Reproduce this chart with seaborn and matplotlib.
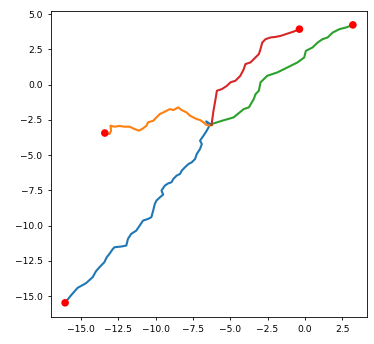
import pandas as pd
import seaborn as sns
import matplotlib
matplotlib.use("Agg")
import matplotlib.pyplot as plt

# four random walks, all starting near (-6.25, -2.85)
blue_x = [-6.25, -6.61, -6.39, -6.57, -6.79, -7.02, -6.90, -7.02, -7.24, -7.35, -7.58,
          -7.80, -8.03, -8.25, -8.36, -8.59, -8.81, -8.93, -9.15, -9.38, -9.60, -9.49,
          -9.71, -9.94, -10.05, -10.16, -10.28, -10.50, -10.84, -11.06, -11.29, -11.63,
          -11.85, -11.96, -12.30, -12.75, -12.86, -13.09, -13.27, -13.43, -13.76, -13.99,
          -14.21, -14.66, -15.22, -15.67, -16.06]
blue_y = [-2.85, -2.60, -2.91, -3.26, -3.62, -3.97, -4.21, -4.56, -4.92, -5.27, -5.51,
          -5.63, -5.86, -6.10, -6.33, -6.45, -6.69, -6.92, -7.00, -7.16, -7.51, -7.80,
          -7.99, -8.22, -8.46, -8.93, -9.40, -9.52, -9.64, -9.99, -10.35, -10.58,
          -10.94, -11.41, -11.48, -11.53, -11.65, -12.00, -12.24, -12.59, -12.95, -13.23,
          -13.65, -14.08, -14.41, -14.95, -15.47]

orange_x = [-6.25, -6.34, -6.61, -6.79, -7.02, -7.24, -7.47, -7.69, -7.92, -8.25, -8.48,
            -8.81, -9.04, -9.26, -9.49, -9.71, -9.94, -10.16, -10.50, -10.61, -10.84,
            -11.11, -11.40, -11.74, -12.08, -12.41, -12.75, -13.02, -12.98, -13.09, -13.40]
orange_y = [-2.85, -2.91, -2.84, -2.67, -2.51, -2.44, -2.32, -2.20, -1.97, -1.80, -1.61,
            -1.80, -1.73, -1.85, -1.97, -2.08, -2.32, -2.56, -2.67, -2.91, -3.10,
            -3.26, -3.15, -2.98, -2.98, -2.93, -2.98, -2.91, -3.26, -3.50, -3.43]

green_x = [-6.25, -6.23, -5.55, -4.77, -4.09, -3.75, -3.42, -3.30, -3.08, -2.97, -2.52,
           -1.84, -1.17, -0.49, -0.04, 0.07, 0.52, 0.86, 1.19, 1.53, 1.87, 2.32, 2.77, 3.22]
green_y = [-2.85, -2.79, -2.56, -2.32, -1.73, -1.61, -1.02, -0.67, -0.43, 0.16, 0.63,
           0.87, 1.22, 1.58, 1.93, 2.40, 2.64, 2.99, 3.23, 3.35, 3.70, 3.94, 4.06, 4.24]

red_x = [-6.25, -6.12, -6.00, -5.89, -5.55, -5.22, -4.99, -4.65, -4.32, -4.09, -3.98,
         -3.64, -3.42, -3.08, -2.97, -2.85, -2.63, -2.29, -1.95, -1.62, -1.28, -0.94,
         -0.61, -0.36]
red_y = [-2.85, -1.85, -1.14, -0.43, -0.31, -0.08, 0.16, 0.28, 0.63, 1.10, 1.46,
         1.58, 1.81, 2.17, 2.52, 2.99, 3.23, 3.35, 3.39, 3.46, 3.58, 3.70,
         3.82, 3.94]

walks = [(blue_x, blue_y), (orange_x, orange_y), (green_x, green_y), (red_x, red_y)]

frames = []
for i, (xs, ys) in enumerate(walks):
    frames.append(pd.DataFrame({"x": xs, "y": ys, "walk": i, "step": range(len(xs))}))
df = pd.concat(frames, ignore_index=True)

# end points of every walk
ends = pd.DataFrame({"x": [w[0][-1] for w in walks], "y": [w[1][-1] for w in walks]})

plt.rcParams["font.size"] = 6.6
plt.rcParams["xtick.major.size"] = 2.4
plt.rcParams["ytick.major.size"] = 2.4
plt.rcParams["xtick.major.width"] = 0.6
plt.rcParams["ytick.major.width"] = 0.6

fig = plt.figure(figsize=(3.74, 3.44), dpi=100)
ax = fig.add_axes([0.1356, 0.0794, 0.8464, 0.8886])

for i in range(4):
    sub = df[df["walk"] == i]
    sns.lineplot(data=sub, x="x", y="y", sort=False, estimator=None,
                 color=sns.color_palette()[i], linewidth=1.5, ax=ax)
sns.scatterplot(data=ends, x="x", y="y", color="red", s=30, edgecolor="none", ax=ax, zorder=5)

ax.set_xlabel("")
ax.set_ylabel("")
ax.set_xticks([-15, -12.5, -10, -7.5, -5, -2.5, 0, 2.5])
ax.set_yticks([-15, -12.5, -10, -7.5, -5, -2.5, 0, 2.5, 5])
for s in ax.spines.values():
    s.set_linewidth(0.6)

fig.savefig("out.png", dpi=100)
